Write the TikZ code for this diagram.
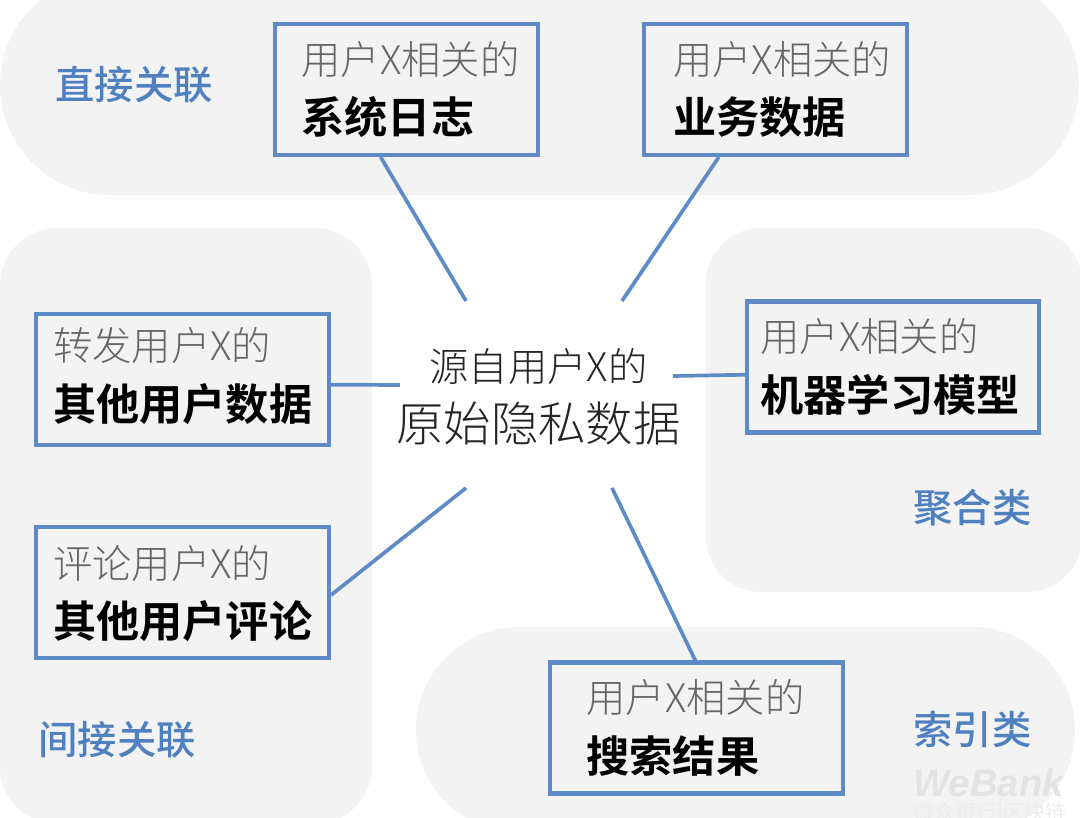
\documentclass[tikz,border=0pt]{standalone}
\usepackage{fontspec}
\setmainfont{Noto Sans CJK SC}
\newfontfamily\cjklight{Noto Sans CJK SC Light}
\newfontfamily\cjkbold{Noto Sans CJK SC Bold}
\newfontfamily\cjkmedium{Noto Sans CJK SC Medium}
\newfontfamily\wmfont{Liberation Sans}
\definecolor{panelgray}{HTML}{F3F3F4}
\definecolor{boxblue}{HTML}{5E8AC6}
\definecolor{labelblue}{HTML}{4F80BF}
\definecolor{thingray}{HTML}{666666}
\newcommand{\thinline}[1]{{\cjklight\fontsize{22.4pt}{34pt}\selectfont\color{thingray}#1}}
\newcommand{\boldline}[1]{{\cjkbold\fontsize{24.6pt}{34pt}\selectfont\color{black}#1}}
\tikzset{
    panel/.style={fill=panelgray, draw=none},
    databox/.style={draw=boxblue, line width=2.3pt, rectangle, align=left, minimum height=2.62cm, inner ysep=0pt},
    tielink/.style={draw=boxblue, line width=2.1pt},
    catlabel/.style={text=labelblue, font=\cjkmedium\fontsize{22.4pt}{26pt}\selectfont, inner sep=0pt}
}

\begin{document}
\begin{tikzpicture}[x=0.02cm, y=-0.02cm]
    \useasboundingbox (0,0) rectangle (1080,818);
    \clip (0,0) rectangle (1080,818);

    % panels
    \fill[panel, rounded corners=2.2cm] (0,-25) rectangle (1079,195);
    \fill[panel, rounded corners=1.15cm] (0,228) rectangle (372,824);
    \fill[panel, rounded corners=1.1cm] (706,228) rectangle (1082,592);
    \fill[panel, rounded corners=2.06cm] (416,627) rectangle (1075,833);

    % categories
    \node[catlabel, anchor=west] (direct) at (55,85) {直接关联};
    \node[catlabel, anchor=west] (indirect) at (38,740) {间接关联};
    \node[catlabel, anchor=west] (aggregate) at (913,508) {聚合类};
    \node[catlabel, anchor=west] (index) at (913,730) {索引类};

    % source
    \node[align=center, inner sep=0pt] (source) at (538.5,396.5) {{\cjklight\fontsize{22.4pt}{32pt}\selectfont\color{black!85}源自用户X的}\\[9pt]{\cjklight\fontsize{27pt}{32pt}\selectfont\color{black!85}原始隐私数据}};

    % boxes
    \node[databox, text width=4.2cm, inner xsep=0.54cm] (syslog) at (406.5,89.5) {\thinline{用户X相关的}\\[10pt]\boldline{系统日志}};
    \node[databox, text width=4.1cm, inner xsep=0.58cm] (bizdata) at (775.5,89.5) {\thinline{用户X相关的}\\[10pt]\boldline{业务数据}};
    \node[databox, text width=5.18cm, inner xsep=0.34cm] (forward) at (182.5,379.5) {\thinline{转发用户X的}\\[10pt]\boldline{\rule[-6.5pt]{0pt}{1pt}其他用户数据}};
    \node[databox, text width=5.18cm, inner xsep=0.34cm] (comment) at (182.5,592.5) {\thinline{\rule{0pt}{19.7pt}评论用户X的}\\[10pt]\boldline{其他用户评论}};
    \node[databox, text width=5.3cm, inner xsep=0.27cm] (model) at (893,367) {\thinline{用户X相关的}\\[10pt]\boldline{机器学习模型}};
    \node[databox, text width=4.4cm, inner xsep=0.74cm] (search) at (696.5,728) {\thinline{用户X相关的}\\[10pt]\boldline{搜索结果}};

    % free ends near the source
    \coordinate (srclog) at (466,301);
    \coordinate (srcbiz) at (622,301);
    \coordinate (srcforward) at (400,385);
    \coordinate (srccomment) at (466,488);
    \coordinate (srcmodel) at (673,376);
    \coordinate (srcsearch) at (612,488);

    % links
    \draw[tielink] (syslog.249.5) -- (srclog);
    \draw[tielink] (bizdata.230.2) -- (srcbiz);
    \draw[tielink] (forward.-2.15) -- (srcforward);
    \draw[tielink] (comment.-1) -- (srccomment);
    \draw[tielink] (model.183.5) -- (srcmodel);
    \draw[tielink] (search.91.3) -- (srcsearch);

    % watermark
    \node[anchor=west, inner sep=0pt, text=black!11, font=\wmfont\bfseries\itshape\fontsize{21.8pt}{24pt}\selectfont] (brand) at (913,783) {WeBank};
    \node[anchor=west, inner sep=0pt, text=black!7, font=\fontsize{12pt}{14pt}\selectfont] (brandsub) at (913,815) {微众银行|区块链};
\end{tikzpicture}
\end{document}
